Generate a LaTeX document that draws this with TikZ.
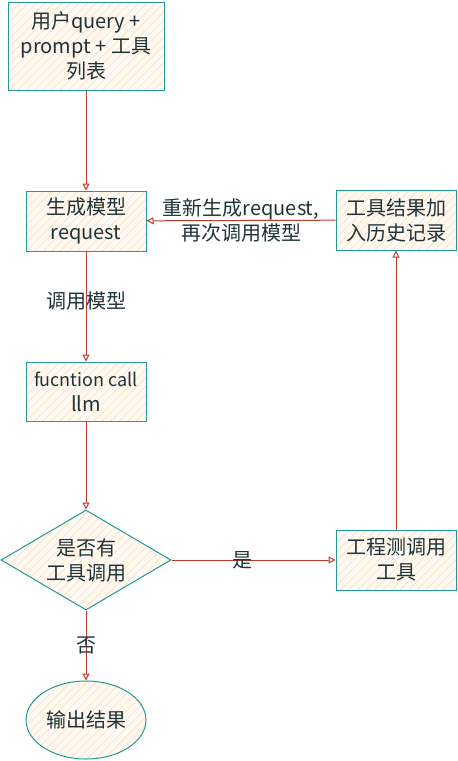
\documentclass[tikz,border=0pt]{standalone}
\usepackage{fontspec}
\setmainfont{Noto Sans CJK SC}
\usepackage{tikz}
\usetikzlibrary{positioning,shapes.geometric,arrows.meta,patterns.meta}
\definecolor{tealline}{HTML}{1F9A96}
\definecolor{peach}{HTML}{FFDDB8}
\definecolor{peachbg}{HTML}{FFFAF4}
\definecolor{arrowred}{HTML}{C0392B}
\definecolor{ink}{HTML}{1E3438}
\tikzstyle{hatch}=[%
      preaction={fill=peachbg},
      preaction={pattern={Lines[angle=45,distance=6pt,line width=0.7pt]}, pattern color=peach}
]
\tikzstyle{bx}=[%
      rectangle, draw=tealline, line width=1pt, hatch, text=ink,
      minimum width=120pt, minimum height=60pt, inner sep=2pt, align=center,
      font=\fontsize{20}{25}\selectfont
]
\tikzstyle{dc}=[%
      diamond, aspect=1.7, draw=tealline, line width=1pt, hatch, text=ink,
      minimum width=170pt, minimum height=100pt, inner sep=0pt, align=center,
      font=\fontsize{20}{25}\selectfont
]
\tikzstyle{el}=[%
      ellipse, draw=tealline, line width=1pt, hatch, text=ink,
      minimum width=120pt, minimum height=78pt, inner sep=0pt, align=center,
      font=\fontsize{20}{25}\selectfont
]
\tikzstyle{lb}=[%
      text=ink, inner sep=1pt, align=center, font=\fontsize{20}{25}\selectfont
]

\begin{document}
\begin{tikzpicture}[x=1pt, y=1pt,
    every edge/.style={draw=arrowred, line width=1pt},
    -{Triangle[open,length=7pt,width=7pt]}
  ]
    \useasboundingbox (0,0) rectangle (458,-761);

    \node[bx, minimum width=156pt, minimum height=88pt] (in) at (86,-46) {用户query +\\prompt + 工具\\列表};
    \node[bx] (gen)  [below = 100pt of in]   {生成模型\\request};
    \node[bx, minimum height=59pt] (llm) [below = 110pt of gen] {\fontsize{18}{25}\selectfont fucntion call\\llm};
    \node[dc] (dec)  [below = 88pt of llm]   {是否有\\工具调用};
    \node[el] (out)  [below = 70pt of dec]   {输出结果};
    \node[bx] (call) [right = 164pt of dec]  {工程测调用\\工具};
    \node[bx] (hist) [above = 279pt of call] {工具结果加\\入历史记录};

    \path
          (in)   edge (gen)
          (gen)  edge node[lb, pos=0.45] {调用模型} (llm)
          (llm)  edge (dec)
          (dec)  edge node[lb] {否} (out)
          (dec)  edge node[lb, pos=0.43] {是} (call)
          (call) edge (hist)
          (hist) edge node[lb] {重新生成request,\\再次调用模型} (gen)
    ;

  \end{tikzpicture}
\end{document}
